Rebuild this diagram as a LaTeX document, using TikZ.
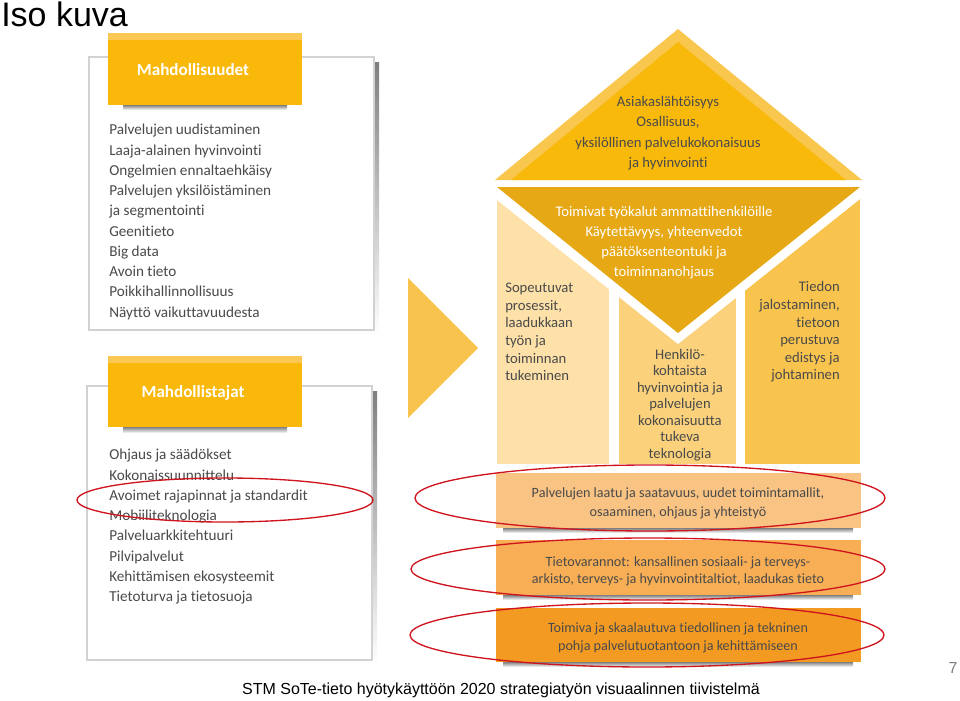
\documentclass[tikz,border=0pt]{standalone}
\usepackage{fontspec}
\setmainfont[Ligatures=CommonOff]{Carlito}
\newfontfamily\arialfont{Liberation Sans}
\usetikzlibrary{positioning}
\usetikzlibrary{calc}

\definecolor{ink}{HTML}{4A4A4A}
\definecolor{boxline}{HTML}{D2D2D2}
\definecolor{shade}{HTML}{DCDCDC}
\definecolor{headgold}{HTML}{FAB80A}
\definecolor{headlight}{HTML}{FAC853}
\definecolor{roofgold}{HTML}{F8B90B}
\definecolor{rooflight}{HTML}{F9C64E}
\definecolor{toolgold}{HTML}{E6A815}
\definecolor{colone}{HTML}{FDE1A8}
\definecolor{coltwo}{HTML}{FBD17C}
\definecolor{colthree}{HTML}{F9C44E}
\definecolor{barone}{HTML}{F9C383}
\definecolor{bartwo}{HTML}{F8AE55}
\definecolor{barthree}{HTML}{F39A22}
\definecolor{ring}{HTML}{D0141E}

\tikzset{
    panel/.style={fill=white, draw=boxline, line width=0.8},
    listtext/.style={inner sep=0, align=left, text=ink,
        font=\fontsize{11.4}{15.2}\selectfont},
    headtext/.style={inner sep=0, text=white,
        font=\fontsize{12.8}{14}\selectfont\bfseries},
    housetext/.style={inner sep=0, text=ink},
    redring/.style={draw=ring, line width=1}
}

\begin{document}
\begin{tikzpicture}[x=0.75pt, y=-0.75pt]

\useasboundingbox (0,0) rectangle (960,700);

\node [anchor=north west, inner sep=0,
    font=\arialfont\fontsize{25.5}{28}\selectfont] (title) at (1,2) {Iso kuva};

% Mahdollisuudet
\fill [shade] (94,62) rectangle (379,335);
\draw [panel] (89,57) rectangle (374,330);
\fill [shade] (123,105) rectangle (287,110);
\fill [headgold] (108,33) rectangle (302,105);
\fill [headlight] (108,33) rectangle (302,40);
\node [headtext] (chances head) at (193,70) {Mahdollisuudet};
\node [listtext, anchor=north west] (chances list) at (109,124)
    {
        Palvelujen uudistaminen\\
        Laaja-alainen hyvinvointi\\
        Ongelmien ennaltaehkäisy\\
        Palvelujen yksilöistäminen\\
        ja segmentointi\\
        Geenitieto\\
        Big data\\
        Avoin tieto\\
        Poikkihallinnollisuus\\
        Näyttö vaikuttavuudesta
    };

% Mahdollistajat
\fill [shade] (92,391) rectangle (377,665);
\draw [panel] (87,386) rectangle (372,660);
\fill [shade] (123,427) rectangle (287,433);
\fill [headgold] (108,356) rectangle (302,427);
\fill [headlight] (108,356) rectangle (302,363);
\node [headtext] (enablers head) at (193,393) {Mahdollistajat};
\node [listtext, anchor=north west] (enablers list) at (109,449)
    {
        Ohjaus ja säädökset\\
        Kokonaissuunnittelu\\
        Avoimet rajapinnat ja standardit\\
        Mobiiliteknologia\\
        Palveluarkkitehtuuri\\
        Pilvipalvelut\\
        Kehittämisen ekosysteemit\\
        Tietoturva ja tietosuoja
    };

% arrow
\fill [colthree] (408,278) -- (478,348) -- (408,418) -- cycle;

% roof
\fill [rooflight] (495,180) -- (678,29) -- (862,180) -- cycle;
\fill [roofgold] (511,180) -- (678,42) -- (846,180) -- cycle;
\node [housetext, align=center, font=\fontsize{11}{15.3}\selectfont]
    (roof text) at (668,133) {
        Asiakaslähtöisyys\\
        Osallisuus,\\
        yksilöllinen palvelukokonaisuus\\
        ja hyvinvointi
    };

% pillars
\fill [colone] (497,190) rectangle (609,464);
\fill [coltwo] (619,190) rectangle (736,464);
\fill [colthree] (745,190) rectangle (860,464);
\fill [white] (497,187) -- (497,200) -- (678,344) -- (860,199) -- (860,187) -- cycle;
\fill [toolgold] (497,187) -- (860,187) -- (678,333) -- cycle;

\node [housetext, text=white, align=center, font=\fontsize{11}{15}\selectfont]
    (tools text) at (664,243) {
        Toimivat työkalut ammattihenkilöille\\
        Käytettävyys, yhteenvedot\\
        päätöksenteontuki ja\\
        toiminnanohjaus
    };
\node [housetext, anchor=west, align=left, font=\fontsize{11}{13.2}\selectfont]
    (process text) at (505,332) {
        Sopeutuvat\\
        prosessit,\\
        laadukkaan\\
        työn ja\\
        toiminnan\\
        tukeminen
    };
\node [housetext, align=center, font=\fontsize{11}{12.4}\selectfont]
    (person text) at (680,405) {
        Henkilö-\\
        kohtaista\\
        hyvinvointia ja\\
        palvelujen\\
        kokonaisuutta\\
        tukeva\\
        teknologia
    };
\node [housetext, anchor=east, align=right, font=\fontsize{11}{13.2}\selectfont]
    (refine text) at (840,332) {
        Tiedon\\
        jalostaminen,\\
        tietoon\\
        perustuva\\
        edistys ja\\
        johtaminen
    };

% foundation bars
\fill [shade] (503,528) rectangle (853,533);
\fill [barone] (496,473) rectangle (861,528);
\fill [shade] (503,595) rectangle (853,600);
\fill [bartwo] (496,540) rectangle (861,595);
\fill [shade] (503,662) rectangle (853,667);
\fill [barthree] (496,608) rectangle (861,662);

\node [housetext, align=center, font=\fontsize{10.6}{14.2}\selectfont]
    (quality bar) at (678,503) {
        Palvelujen laatu ja saatavuus, uudet toimintamallit,\\
        osaaminen, ohjaus ja yhteistyö
    };
\node [housetext, align=center, font=\fontsize{10.6}{13}\selectfont]
    (data bar) at (678,571) {
        Tietovarannot: kansallinen sosiaali- ja terveys-\\
        arkisto, terveys- ja hyvinvointitaltiot, laadukas tieto
    };
\node [housetext, align=center, font=\fontsize{10.6}{13.4}\selectfont]
    (base bar) at (678,638) {
        Toimiva ja skaalautuva tiedollinen ja tekninen\\
        pohja palvelutuotantoon ja kehittämiseen
    };

% red rings
\draw [redring] (225,500) ellipse [x radius=148, y radius=22];
\draw [redring] (650,498) ellipse [x radius=235, y radius=33];
\draw [redring] (648,569) ellipse [x radius=237, y radius=31];
\draw [redring] (647,635) ellipse [x radius=237, y radius=32];

\node [inner sep=0, font=\arialfont\fontsize{12}{14}\selectfont]
    (footer) at (501,690) {STM SoTe-tieto hyötykäyttöön 2020 strategiatyön visuaalinnen tiivistelmä};
\node [inner sep=0, text=gray, font=\arialfont\fontsize{12}{14}\selectfont]
    (page number) at (953,668) {7};

\end{tikzpicture}
\end{document}
